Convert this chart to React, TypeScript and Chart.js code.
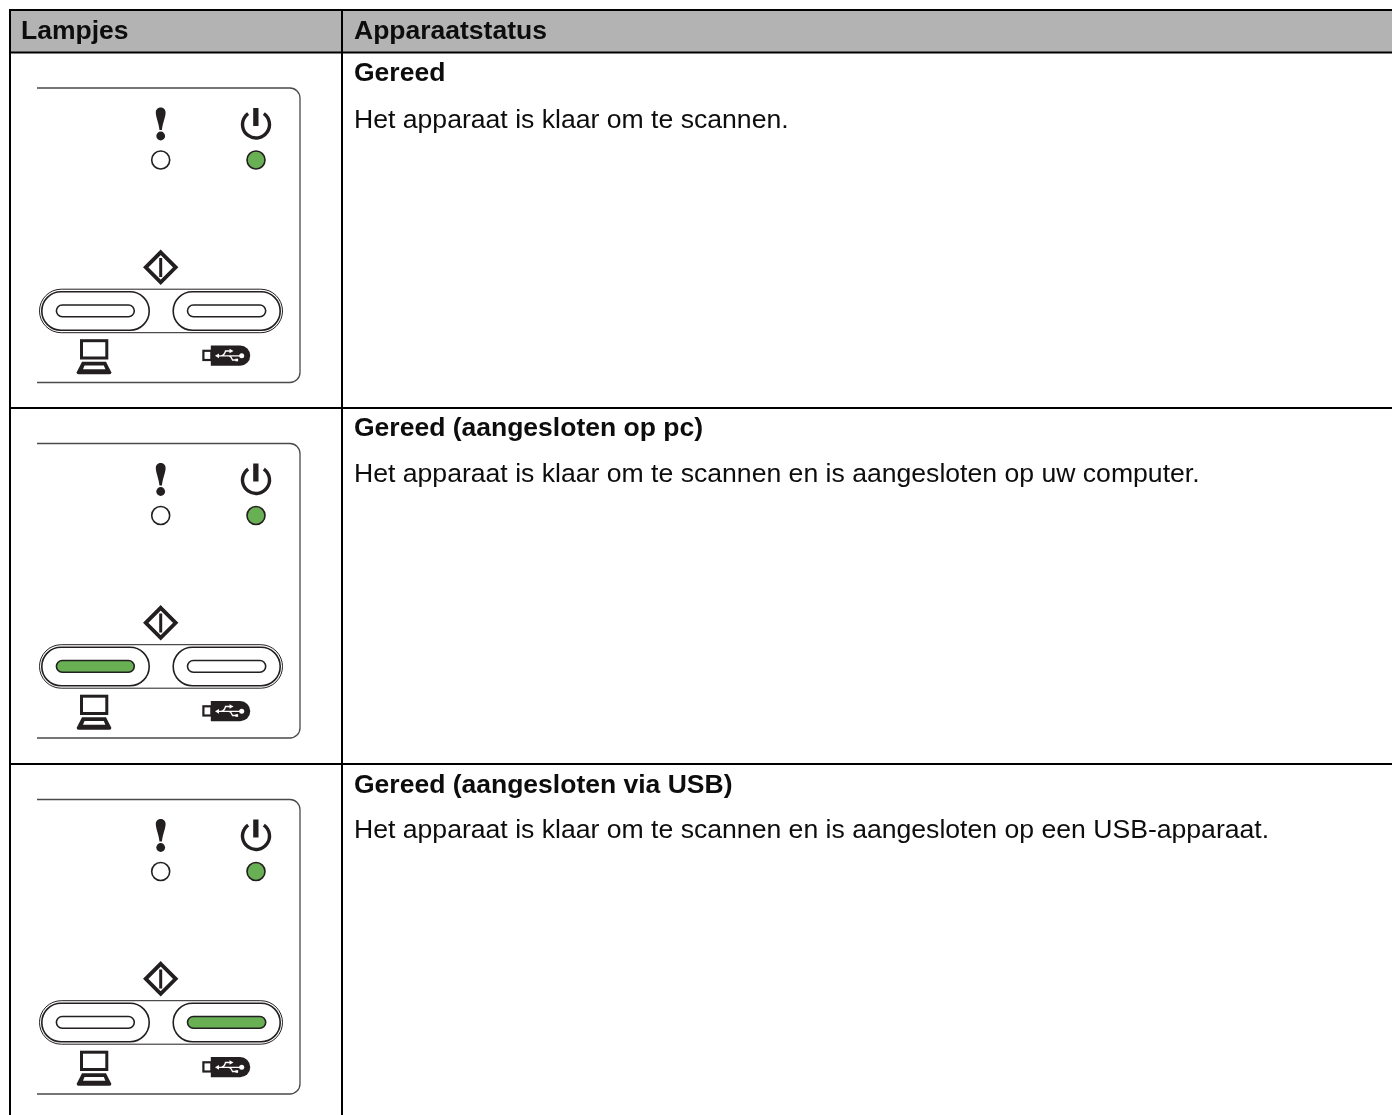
import React, { useEffect, useRef } from "react";
import { Chart, registerables } from "chart.js";

Chart.register(...registerables);

const headers = ["Lampjes", "Apparaatstatus"];
const titles = ["Gereed", "Gereed (aangesloten op pc)", "Gereed (aangesloten via USB)"];
const descriptions = [
  "Het apparaat is klaar om te scannen.",
  "Het apparaat is klaar om te scannen en is aangesloten op uw computer.",
  "Het apparaat is klaar om te scannen en is aangesloten op een USB-apparaat.",
];
const rowLinesY = [10, 52.5, 408, 764];
const columnLinesX = [10, 342];
const panelOffsets = [0, 355.5, 711.5];
const titleBaselines = [81, 436.3, 792.5];
const descriptionBaselines = [128, 482, 838.2];
const powerLedOn = [true, true, true];
const errorLedOn = [false, false, false];
const pcPillOn = [false, true, false];
const usbPillOn = [false, false, true];

const W = 1392;
const H = 1115;
const GREEN = "#69b054";
const INK = "#231f20";
const FONT = '"Liberation Sans", Arial, sans-serif';

const panelPlugin = {
  id: "panelPlugin",
  beforeDatasetsDraw(chart: any) {
    const c = chart.ctx as CanvasRenderingContext2D;
    const X = (v: number) => chart.scales.x.getPixelForValue(v);
    const Y = (v: number) => chart.scales.y.getPixelForValue(v);
    c.save();
    c.fillStyle = "#b3b3b3";
    c.fillRect(X(10), Y(10), X(W) - X(10), Y(52.5) - Y(10));
    c.restore();
  },
  afterDatasetsDraw(chart: any) {
    const c = chart.ctx as CanvasRenderingContext2D;
    const X = (v: number) => chart.scales.x.getPixelForValue(v);
    const Y = (v: number) => chart.scales.y.getPixelForValue(v);

    const pill = (x0: number, y0: number, x1: number, y1: number) => {
      c.beginPath();
      c.roundRect(X(x0), Y(y0), X(x1) - X(x0), Y(y1) - Y(y0), (Y(y1) - Y(y0)) / 2);
    };

    c.save();
    c.textBaseline = "alphabetic";
    c.fillStyle = "#0d0d0d";
    c.font = `bold 26.5px ${FONT}`;
    c.fillText(headers[0], X(21), Y(39));
    c.fillText(headers[1], X(354), Y(39));
    panelOffsets.forEach((off, i) => {
      const dy = (v: number) => v + off;
      c.fillStyle = "#0d0d0d";
      c.font = `bold 26.5px ${FONT}`;
      c.fillText(titles[i], X(354), Y(titleBaselines[i]));
      c.font = `26.6px ${FONT}`;
      c.fillText(descriptions[i], X(354), Y(descriptionBaselines[i]));

      // panel outline
      c.strokeStyle = "#4a4a4a";
      c.lineWidth = 1.3;
      c.beginPath();
      c.moveTo(X(37), Y(dy(88)));
      c.lineTo(X(290), Y(dy(88)));
      c.arcTo(X(300), Y(dy(88)), X(300), Y(dy(98)), 10);
      c.lineTo(X(300), Y(dy(372.5)));
      c.arcTo(X(300), Y(dy(382.5)), X(290), Y(dy(382.5)), 10);
      c.lineTo(X(37), Y(dy(382.5)));
      c.stroke();

      // exclamation mark
      c.fillStyle = INK;
      c.beginPath();
      c.moveTo(X(159.5), Y(dy(130)));
      c.bezierCurveTo(X(158.5), Y(dy(122)), X(155.8), Y(dy(117)), X(155.8), Y(dy(112.5)));
      c.bezierCurveTo(X(155.8), Y(dy(105.8)), X(165.6), Y(dy(105.8)), X(165.6), Y(dy(112.5)));
      c.bezierCurveTo(X(165.6), Y(dy(117)), X(162.9), Y(dy(122)), X(161.9), Y(dy(130)));
      c.closePath();
      c.fill();
      c.beginPath();
      c.arc(X(160.7), Y(dy(136)), 4.4, 0, Math.PI * 2);
      c.fill();

      // power icon
      c.strokeStyle = INK;
      c.lineWidth = 3.4;
      c.beginPath();
      c.arc(X(256), Y(dy(124.5)), 13.5, -Math.PI / 2 + 0.62, -Math.PI / 2 - 0.62 + Math.PI * 2);
      c.stroke();
      c.fillRect(X(253.2), Y(dy(108)), 5.3, 18);

      // start diamond
      c.lineWidth = 3.8;
      c.lineJoin = "miter";
      c.beginPath();
      c.moveTo(X(160.7), Y(dy(252.3)));
      c.lineTo(X(175.7), Y(dy(267.3)));
      c.lineTo(X(160.7), Y(dy(282.3)));
      c.lineTo(X(145.7), Y(dy(267.3)));
      c.closePath();
      c.stroke();
      c.fillRect(X(159.2), Y(dy(258)), 3, 19);

      // common outer outline of both buttons, then the two inner outlines
      c.strokeStyle = INK;
      c.lineWidth = 1;
      pill(39.5, dy(289.2), 282.5, dy(332.7));
      c.stroke();
      c.lineWidth = 1.6;
      pill(41.8, dy(291.7), 149.2, dy(330.2));
      c.stroke();
      pill(173.2, dy(291.7), 280.2, dy(330.2));
      c.stroke();

      // button slots
      c.lineWidth = 1.6;
      c.fillStyle = pcPillOn[i] ? GREEN : "#ffffff";
      pill(56.4, dy(305), 134.3, dy(316.7));
      c.fill();
      c.stroke();
      c.fillStyle = usbPillOn[i] ? GREEN : "#ffffff";
      pill(187.5, dy(305), 265.7, dy(316.7));
      c.fill();
      c.stroke();

      // computer icon
      c.strokeStyle = INK;
      c.fillStyle = INK;
      c.lineWidth = 3;
      c.strokeRect(X(81.5), Y(dy(340.7)), 25.3, 17.3);
      c.beginPath();
      c.moveTo(X(82), Y(dy(361.8)));
      c.lineTo(X(106), Y(dy(361.8)));
      c.lineTo(X(111.3), Y(dy(372.2)));
      c.quadraticCurveTo(X(111.5), Y(dy(374.2)), X(109.5), Y(dy(374.2)));
      c.lineTo(X(78.5), Y(dy(374.2)));
      c.quadraticCurveTo(X(76.5), Y(dy(374.2)), X(76.7), Y(dy(372.2)));
      c.closePath();
      c.fill();
      c.fillStyle = "#ffffff";
      c.beginPath();
      c.moveTo(X(84.5), Y(dy(365.6)));
      c.lineTo(X(103.8), Y(dy(365.6)));
      c.lineTo(X(105.4), Y(dy(369.2)));
      c.lineTo(X(83), Y(dy(369.2)));
      c.closePath();
      c.fill();

      // usb stick icon
      c.strokeStyle = INK;
      c.lineWidth = 2.2;
      c.strokeRect(X(203.4), Y(dy(350.8)), 8, 9.2);
      c.fillStyle = INK;
      c.beginPath();
      c.roundRect(X(210.8), Y(dy(345.5)), 39.4, 20.3, [0, 10, 10, 0]);
      c.fill();
      c.strokeStyle = "#ffffff";
      c.fillStyle = "#ffffff";
      c.lineWidth = 1.3;
      c.beginPath();
      c.moveTo(X(217), Y(dy(355.8)));
      c.lineTo(X(241), Y(dy(355.8)));
      c.moveTo(X(221), Y(dy(355.8)));
      c.quadraticCurveTo(X(224.5), Y(dy(355.5)), X(225.5), Y(dy(351)));
      c.lineTo(X(230), Y(dy(351)));
      c.moveTo(X(229), Y(dy(355.8)));
      c.quadraticCurveTo(X(231), Y(dy(356)), X(232.5), Y(dy(360)));
      c.lineTo(X(236), Y(dy(360)));
      c.stroke();
      c.beginPath();
      c.arc(X(241.7), Y(dy(355.8)), 2.5, 0, Math.PI * 2);
      c.fill();
      c.beginPath();
      c.moveTo(X(215), Y(dy(355.8)));
      c.lineTo(X(219), Y(dy(353.4)));
      c.lineTo(X(219), Y(dy(358.2)));
      c.closePath();
      c.fill();
      c.beginPath();
      c.moveTo(X(233.5), Y(dy(351)));
      c.lineTo(X(229.5), Y(dy(348.8)));
      c.lineTo(X(229.5), Y(dy(353.2)));
      c.closePath();
      c.fill();
      c.fillRect(X(235.5), Y(dy(358.7)), 2.6, 2.6);
    });
    c.restore();
  },
};

export default function App() {
  const ref = useRef<HTMLCanvasElement>(null);
  useEffect(() => {
    const tableLines = [
      ...rowLinesY.map((y, i) => ({
        type: "scatter" as const,
        showLine: true,
        data: [{ x: i < 2 ? 9 : 10, y }, { x: W, y }],
        borderColor: "#000000",
        borderWidth: 2,
        pointRadius: 0,
      })),
      ...columnLinesX.map((x) => ({
        type: "scatter" as const,
        showLine: true,
        data: [{ x, y: 10 }, { x, y: H }],
        borderColor: "#000000",
        borderWidth: 2,
        pointRadius: 0,
      })),
    ];
    const ledY = panelOffsets.map((o) => 160 + o);
    const chart = new Chart(ref.current as HTMLCanvasElement, {
      type: "scatter",
      data: {
        datasets: [
          ...tableLines,
          {
            type: "scatter",
            data: ledY.map((y) => ({ x: 160.7, y })),
            pointRadius: 9,
            pointBackgroundColor: errorLedOn.map((on) => (on ? GREEN : "#ffffff")),
            pointBorderColor: INK,
            pointBorderWidth: 1.6,
          },
          {
            type: "scatter",
            data: ledY.map((y) => ({ x: 256, y })),
            pointRadius: 9,
            pointBackgroundColor: powerLedOn.map((on) => (on ? GREEN : "#ffffff")),
            pointBorderColor: INK,
            pointBorderWidth: 1.6,
          },
        ],
      } as any,
      options: {
        responsive: false,
        animation: false,
        layout: { padding: 0, autoPadding: false },
        plugins: { legend: { display: false }, tooltip: { enabled: false } },
        events: [],
        scales: {
          x: { type: "linear", min: 0, max: W, display: false },
          y: { type: "linear", min: 0, max: H, reverse: true, display: false },
        },
      },
      plugins: [panelPlugin],
    });
    return () => chart.destroy();
  }, []);
  return (
    <canvas
      ref={ref}
      width={W}
      height={H}
      style={{ position: "fixed", left: 0, top: 0, width: W, height: H, background: "#ffffff" }}
    />
  );
}
